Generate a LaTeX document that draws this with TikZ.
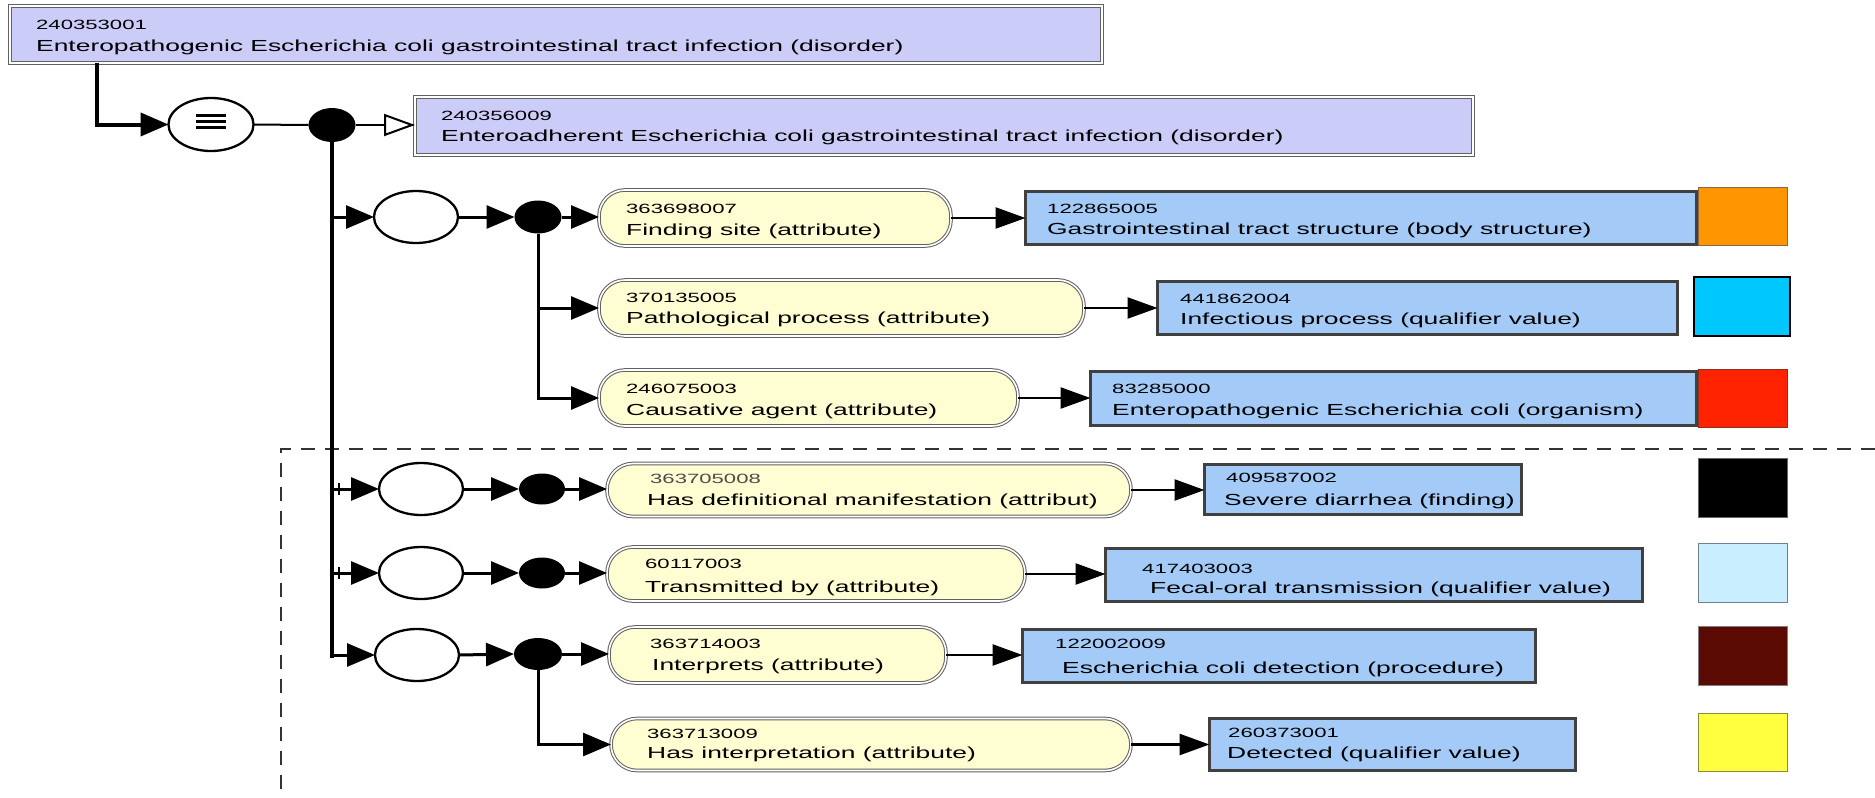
\documentclass[tikz,border=0pt]{standalone}
\usepackage{fontspec}
\setmainfont{Liberation Sans}[FakeStretch=1.65]
\usetikzlibrary{arrows.meta,shapes.geometric,calc}
\definecolor{lav}{HTML}{CCCCF9}
\definecolor{pilly}{HTML}{FFFDD2}
\definecolor{bluebx}{HTML}{A4CBF8}
\definecolor{sqorange}{HTML}{FF9500}
\definecolor{sqorangeb}{HTML}{8C6A40}
\definecolor{sqcyan}{HTML}{00C8FF}
\definecolor{sqred}{HTML}{FF2200}
\definecolor{sqredb}{HTML}{8A3020}
\definecolor{sqlight}{HTML}{C8EEFF}
\definecolor{sqlightb}{HTML}{708090}
\definecolor{sqdark}{HTML}{5A0A00}
\definecolor{sqyellow}{HTML}{FFFF40}
\definecolor{sqyellowb}{HTML}{8A8A40}
\begin{document}
\begin{tikzpicture}[x=1pt,y=-1pt,
 hdr/.style={rectangle, draw=black!62, line width=1pt, double=white, double distance=1.6pt, fill=lav, inner sep=0pt, outer sep=0pt},
 pill/.style={hdr, fill=pilly, rounded corners=26pt},
 bbox/.style={rectangle, draw=black!75, line width=3pt, fill=bluebx, inner sep=0pt, outer sep=0pt},
 hollow/.style={ellipse, draw=black, line width=2.3pt, fill=white, inner sep=0pt, outer sep=0pt, minimum width=84pt, minimum height=52pt},
 dot/.style={ellipse, fill=black, inner sep=0pt, outer sep=0pt},
 numt/.style={anchor=base west, inner sep=0pt, font=\fontsize{13.4}{15}\selectfont},
 labt/.style={anchor=base west, inner sep=0pt, font=\fontsize{16}{18}\selectfont},
 arr/.style={line width=3pt, -{Triangle[length=28pt,width=23pt]}},
 parr/.style={line width=2.5pt, -{Triangle[length=30pt,width=21pt]}},
 sq/.style={rectangle, inner sep=0pt, outer sep=0pt, line width=1pt},
 dashline/.style={line width=2.2pt, draw=black!80, dash pattern=on 14pt off 10pt}
]
\useasboundingbox (0,0) rectangle (1875,798);

% dashed frame
\draw[dashline] (1875,449) -- (281,449) -- (281,798);

% header boxes
\node[hdr, minimum width=1092pt, minimum height=57pt] (b0) at (556,34.5) {};
\node[numt] (b0n) at (36,29) {240353001};
\node[labt] (b0l) at (36,51) {Enteropathogenic Escherichia coli gastrointestinal tract infection (disorder)};
\node[hdr, minimum width=1058pt, minimum height=58pt] (b1) at (944,126) {};
\node[numt] (b1n) at (441,120) {240356009};
\node[labt] (b1l) at (441,141) {Enteroadherent Escherichia coli gastrointestinal tract infection (disorder)};

% equivalence and group nodes
\node[hollow, minimum width=85pt, minimum height=53pt] (E0) at (211,124.5) {};
\draw[line width=2.6pt] ($(E0.center)+(-15,-9)$) -- ++(30,0);
\draw[line width=2.6pt] ($(E0.center)+(-15,-3)$) -- ++(30,0);
\draw[line width=2.6pt] ($(E0.center)+(-15,3)$) -- ++(30,0);
\node[dot, minimum width=47pt, minimum height=34pt] (D0) at (332,125) {};

\node[hollow] (E1) at (416,217) {};
\node[hollow] (E4) at (421,489) {};
\node[hollow] (E5) at (421,573) {};
\node[hollow] (E6) at (417,655) {};
\node[dot, minimum width=47pt, minimum height=33pt] (D1) at (538,217) {};
\node[dot, minimum width=46pt, minimum height=31pt] (D4) at (542,489) {};
\node[dot, minimum width=46pt, minimum height=31pt] (D5) at (542,573) {};
\node[dot, minimum width=48pt, minimum height=32pt] (D6) at (538,654) {};

% attribute pills
\node[pill, minimum width=352pt, minimum height=56pt] (P1) at (775,218) {};
\node[numt] (P1n) at (626,213) {363698007};
\node[labt] (P1l) at (626,235) {Finding site (attribute)};
\node[pill, minimum width=485pt, minimum height=56pt] (P2) at (841.5,308) {};
\node[numt] (P2n) at (626,302) {370135005};
\node[labt] (P2l) at (626,323) {Pathological process (attribute)};
\node[pill, minimum width=419pt, minimum height=56pt] (P3) at (808.5,398) {};
\node[numt] (P3n) at (626,393) {246075003};
\node[labt] (P3l) at (626,415) {Causative agent (attribute)};
\node[pill, minimum width=524pt, minimum height=53pt] (P4) at (869,490) {};
\node[numt, text=black!70] (P4n) at (650,483) {363705008};
\node[labt] (P4l) at (647,505) {Has definitional manifestation (attribut)};
\node[pill, minimum width=418pt, minimum height=54pt] (P5) at (816,574) {};
\node[numt] (P5n) at (645,568) {60117003};
\node[labt] (P5l) at (645,592) {Transmitted by (attribute)};
\node[pill, minimum width=337pt, minimum height=56pt] (P6) at (777.5,655) {};
\node[numt] (P6n) at (650,648) {363714003};
\node[labt] (P6l) at (652,670) {Interprets (attribute)};
\node[pill, minimum width=520pt, minimum height=52pt] (P7) at (871,744.5) {};
\node[numt] (P7n) at (647,738) {363713009};
\node[labt] (P7l) at (647,758) {Has interpretation (attribute)};

% value boxes
\node[bbox, minimum width=671pt, minimum height=53pt] (B1) at (1361,218) {};
\node[numt] (B1n) at (1047,213) {122865005};
\node[labt] (B1l) at (1047,234) {Gastrointestinal tract structure (body structure)};
\node[bbox, minimum width=520pt, minimum height=53pt] (B2) at (1417.5,308) {};
\node[numt] (B2n) at (1180,303) {441862004};
\node[labt] (B2l) at (1180,324) {Infectious process (qualifier value)};
\node[bbox, minimum width=606pt, minimum height=54pt] (B3) at (1393.5,398.5) {};
\node[numt] (B3n) at (1112,393) {83285000};
\node[labt] (B3l) at (1112,415) {Enteropathogenic Escherichia coli (organism)};
\node[bbox, minimum width=317pt, minimum height=50pt] (B4) at (1363,489.5) {};
\node[numt] (B4n) at (1226,482) {409587002};
\node[labt] (B4l) at (1224,505) {Severe diarrhea (finding)};
\node[bbox, minimum width=537pt, minimum height=53pt] (B5) at (1374,575) {};
\node[numt] (B5n) at (1142,573) {417403003};
\node[labt] (B5l) at (1150,593) {Fecal-oral transmission (qualifier value)};
\node[bbox, minimum width=513pt, minimum height=53pt] (B6) at (1279,656) {};
\node[numt] (B6n) at (1055,648) {122002009};
\node[labt] (B6l) at (1062,673) {Escherichia coli detection (procedure)};
\node[bbox, minimum width=366pt, minimum height=52pt] (B7) at (1392.5,744.5) {};
\node[numt] (B7n) at (1228,737) {260373001};
\node[labt] (B7l) at (1227,758) {Detected (qualifier value)};

% colour squares
\node[sq, fill=sqorange, draw=sqorangeb, minimum width=89pt, minimum height=58pt] (S1) at (1743,216.5) {};
\node[sq, fill=sqcyan, draw=black, line width=2pt, minimum width=96pt, minimum height=59pt] (S2) at (1742,306.5) {};
\node[sq, fill=sqred, draw=sqredb, minimum width=89pt, minimum height=58pt] (S3) at (1743,398.5) {};
\node[sq, fill=black, draw=black!60, minimum width=89pt, minimum height=59pt] (S4) at (1743,488) {};
\node[sq, fill=sqlight, draw=sqlightb, line width=1.5pt, minimum width=89pt, minimum height=59pt] (S5) at (1743,573) {};
\node[sq, fill=sqdark, draw=black!50, minimum width=89pt, minimum height=59pt] (S6) at (1743,656) {};
\node[sq, fill=sqyellow, draw=sqyellowb, line width=1.5pt, minimum width=89pt, minimum height=58pt] (S7) at (1743,742.5) {};

% connectors
\coordinate (c0) at (97,0);
\draw[line width=4pt, -{Triangle[length=28pt,width=23pt]}] (c0 |- b0.south) |- (E0.west);
\draw[line width=2pt] (E0.east) -- (D0.west);
\draw[line width=2pt, -{Triangle[open,length=31pt,width=22pt,fill=white]}] (D0.east) -- (D0.east -| b1.west);
\draw[line width=4.5pt] (D0.south) -- ($(D0.south |- E6.west)+(0,3)$);

\draw[arr] (D0.south |- E1.west) -- (E1.west);
\draw[arr] (D0.south |- E4.west) -- (E4.west);
\draw[arr] (D0.south |- E5.west) -- (E5.west);
\draw[arr] (D0.south |- E6.west) -- (E6.west);
\draw[line width=2pt] ($(D0.south |- E4.west)+(7,-6)$) -- ++(0,12);
\draw[line width=2pt] ($(D0.south |- E5.west)+(7,-6)$) -- ++(0,12);

\draw[arr] (E1.east) -- (D1.west);
\draw[arr] (E4.east) -- (D4.west);
\draw[arr] (E5.east) -- (D5.west);
\draw[arr] (E6.east) -- (D6.west);

\draw[arr] (D1.east) -- (D1.east -| P1.west);
\draw[arr] (D1.south) |- (P2.west);
\draw[arr] (D1.south) |- (P3.west);
\draw[arr] (D4.east) -- (D4.east -| P4.west);
\draw[arr] (D5.east) -- (D5.east -| P5.west);
\draw[arr] (D6.east) -- (D6.east -| P6.west);
\draw[arr] (D6.south) |- (P7.west);

\draw[parr] (P1.east) -- (P1.east -| B1.west);
\draw[parr] (P2.east) -- (P2.east -| B2.west);
\draw[parr] (P3.east) -- (P3.east -| B3.west);
\draw[parr] (P4.east) -- (P4.east -| B4.west);
\draw[parr] (P5.east) -- (P5.east -| B5.west);
\draw[parr] (P6.east) -- (P6.east -| B6.west);
\draw[parr] (P7.east) -- (P7.east -| B7.west);
\end{tikzpicture}
\end{document}
